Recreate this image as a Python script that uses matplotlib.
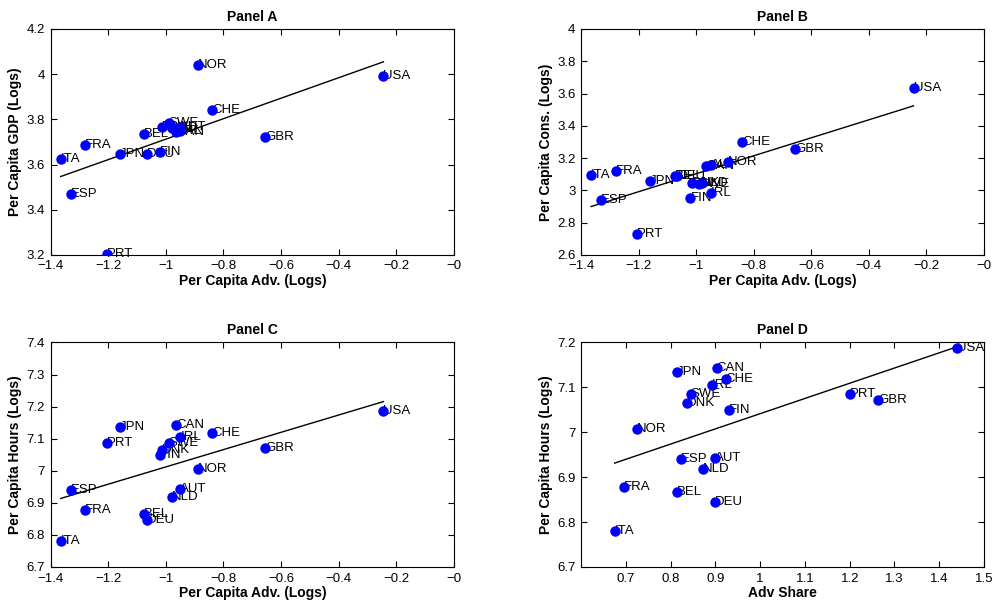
import numpy as np
from matplotlib import pyplot as plt
from matplotlib.ticker import FuncFormatter

plt.rcParams['font.family'] = ['Liberation Sans', 'DejaVu Sans']

countries = ['ITA', 'ESP', 'FRA', 'PRT', 'JPN', 'BEL', 'DEU', 'FIN', 'DNK',
             'SWE', 'NLD', 'CAN', 'IRL', 'AUT', 'NOR', 'CHE', 'GBR', 'USA']

# per capita advertising (logs)
adv = [-1.365, -1.33, -1.28, -1.205, -1.16, -1.075, -1.065, -1.02, -1.015,
       -0.99, -0.98, -0.965, -0.95, -0.95, -0.89, -0.84, -0.655, -0.245]

# advertising share
adv_share = [0.675, 0.823, 0.695, 1.2, 0.815, 0.815, 0.9, 0.93, 0.837,
             0.845, 0.873, 0.903, 0.892, 0.9, 0.725, 0.923, 1.263, 1.44]

gdp = [3.625, 3.468, 3.687, 3.205, 3.648, 3.733, 3.648, 3.655, 3.768,
       3.785, 3.76, 3.742, 3.75, 3.765, 4.04, 3.843, 3.72, 3.99]

cons = [3.098, 2.94, 3.12, 2.73, 3.057, 3.09, 3.09, 2.953, 3.045,
        3.04, 3.045, 3.15, 2.985, 3.155, 3.177, 3.30, 3.255, 3.635]

hours = [6.78, 6.94, 6.878, 7.085, 7.135, 6.866, 6.845, 7.05, 7.065,
         7.085, 6.918, 7.143, 7.105, 6.943, 7.007, 7.118, 7.072, 7.187]

fig = plt.figure(figsize=(9.92, 6.04), dpi=100)

panels = [
    ('Panel A', adv, gdp, 'Per Capita Adv. (Logs)', 'Per Capita GDP (Logs)',
     (-1.4, 0), (3.2, 4.2), np.arange(-1.4, 0.01, 0.2), np.arange(3.2, 4.21, 0.2),
     [0.051, 0.578, 0.4067, 0.374]),
    ('Panel B', adv, cons, 'Per Capita Adv. (Logs)', 'Per Capita Cons. (Logs)',
     (-1.4, 0), (2.6, 4.0), np.arange(-1.4, 0.01, 0.2), np.arange(2.6, 4.01, 0.2),
     [0.5857, 0.578, 0.4063, 0.374]),
    ('Panel C', adv, hours, 'Per Capita Adv. (Logs)', 'Per Capita Hours (Logs)',
     (-1.4, 0), (6.7, 7.4), np.arange(-1.4, 0.01, 0.2), np.arange(6.7, 7.41, 0.1),
     [0.051, 0.0613, 0.4067, 0.3717]),
    ('Panel D', adv_share, hours, 'Adv Share', 'Per Capita Hours (Logs)',
     (0.6, 1.5), (6.7, 7.2), np.arange(0.7, 1.51, 0.1), np.arange(6.7, 7.21, 0.1),
     [0.5857, 0.0613, 0.4063, 0.3717]),
]

fmt = FuncFormatter(lambda v, p: ('%g' % round(v, 2)).replace('-', '\u2212'))

for title, xv, yv, xlab, ylab, xl, yl, xt, yt, pos in panels:
    ax = fig.add_axes(pos)
    x = np.array(xv)
    y = np.array(yv)
    # least squares fit line across the data range
    b, a = np.polyfit(x, y, 1)
    xs = np.array([x.min(), x.max()])
    ax.plot(xs, a + b * xs, color='black', lw=1.0, zorder=1)
    ax.plot(x, y, 'o', color='#0000ff', markersize=7.5, markeredgewidth=0, zorder=3)
    for name, px, py in zip(countries, x, y):
        ax.text(px, py, name, fontsize=9.5, ha='left', va='center', zorder=2)
    ax.set_xlim(xl)
    ax.set_ylim(yl)
    ax.set_xticks(xt)
    ax.set_yticks(yt)
    ax.xaxis.set_major_formatter(fmt)
    ax.yaxis.set_major_formatter(fmt)
    ax.tick_params(direction='in', top=True, right=True, labelsize=9.5, length=4, pad=4)
    ax.set_title(title, fontsize=10, fontweight='bold', pad=6)
    ax.set_xlabel(xlab, fontsize=10, fontweight='bold', labelpad=1)
    ax.set_ylabel(ylab, fontsize=10, fontweight='bold', labelpad=3)

plt.savefig('out.png', dpi=100)
